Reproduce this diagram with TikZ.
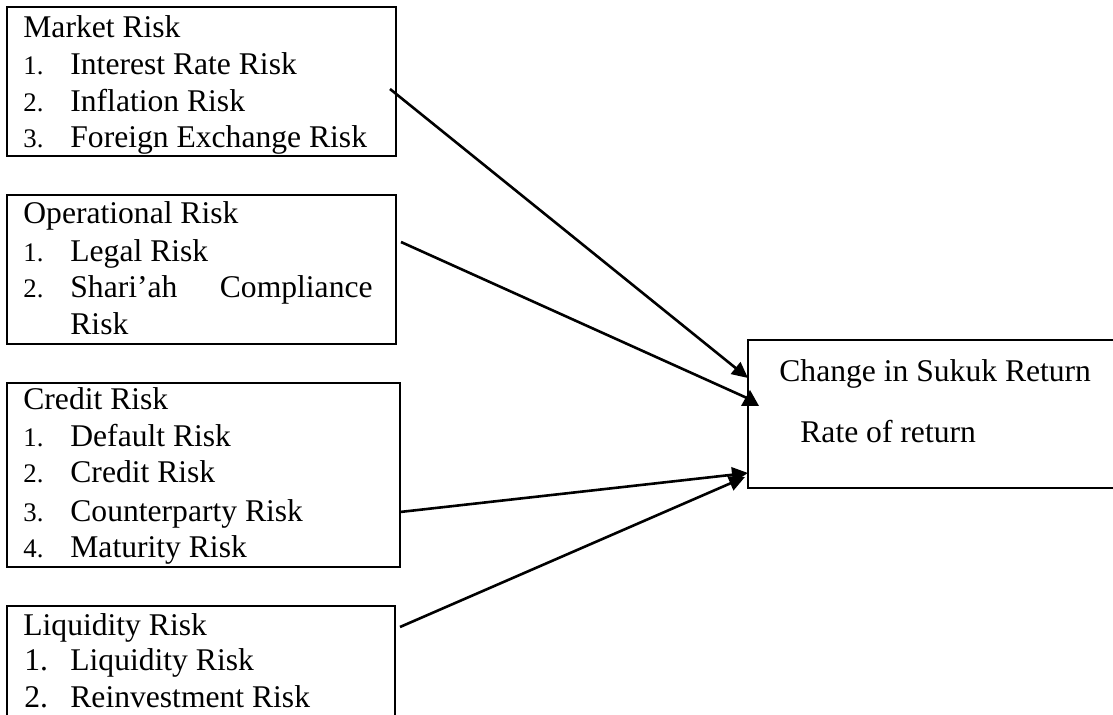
\documentclass[tikz,border=0pt]{standalone}
\usepackage{fontspec}
\setmainfont{Liberation Serif}
\usetikzlibrary{arrows.meta,fit}
\begin{document}
\begin{tikzpicture}[x=0.5pt,y=-0.5pt,
  box/.style={draw,line width=1.25pt,inner sep=0pt,rectangle},
  txt/.style={anchor=base west,inner sep=0pt,font=\fontsize{15.8}{18}\selectfont},
  num/.style={anchor=base west,inner sep=0pt,font=\fontsize{13.4}{15}\selectfont},
  arr/.style={line width=1.3pt,-{Triangle[length=8pt,width=7.5pt]}},
  plain/.style={line width=1.3pt}]
\useasboundingbox (0,0) rectangle (1113,715);
\clip (0,0) rectangle (1113,715);
% boxes
\node[box,fit={(7,7) (396,156)}] (market) {};
\node[box,fit={(7,195) (396,344)}] (oper) {};
\node[box,fit={(7,383) (400,567)}] (credit) {};
\node[box,fit={(7,606) (395,735)}] (liquid) {};
\node[box,fit={(748,340) (1130,488)}] (result) {};
% market
\node[txt] (mt) at (23,37.7) {Market Risk};
\node[num] (mn1) at (23,75) {1.};
\node[txt] (m1) at (70,75) {Interest Rate Risk};
\node[num] (mn2) at (23,112) {2.};
\node[txt] (m2) at (70,112) {Inflation Risk};
\node[num] (mn3) at (23,148) {3.};
\node[txt] (m3) at (70,148) {Foreign Exchange Risk};
% operational
\node[txt] (ot) at (23,224) {Operational Risk};
\node[num] (on1) at (23,262) {1.};
\node[txt] (o1) at (70,262) {Legal Risk};
\node[num] (on2) at (23,298) {2.};
\node[txt] (o2a) at (70,298) {Shari’ah};
\node[txt,anchor=base east] (o2b) at (373,298) {Compliance};
\node[txt] (o2c) at (70,335) {Risk};
% credit
\node[txt] (ct) at (23,410) {Credit Risk};
\node[num] (cn1) at (23,447) {1.};
\node[txt] (c1) at (70,447) {Default Risk};
\node[num] (cn2) at (23,483) {2.};
\node[txt] (c2) at (70,483) {Credit Risk};
\node[num] (cn3) at (23,522) {3.};
\node[txt] (c3) at (70,522) {Counterparty Risk};
\node[num] (cn4) at (23,558) {4.};
\node[txt] (c4) at (70,558) {Maturity Risk};
% liquidity
\node[txt] (lt) at (23,635) {Liquidity Risk};
\node[txt] (ln1) at (24,670) {1.};
\node[txt] (l1) at (70,670) {Liquidity Risk};
\node[txt] (ln2) at (24,707) {2.};
\node[txt] (l2) at (70,707) {Reinvestment Risk};
% result
\node[txt] (r1) at (779,382) {Change in Sukuk Return};
\node[txt] (r2) at (800,443) {Rate of return};
% connector endpoints
\coordinate (sm) at (390,89);
\coordinate (so) at (401,242);
\coordinate (sc) at (400,512);
\coordinate (sl) at (400,627);
\coordinate (em) at (748,378);
\coordinate (eo) at (747,398);
\coordinate (ec) at (748,473);
\coordinate (el) at (745,477);
\draw[arr] (sm) -- (em);
\draw[plain] (so) -- (eo);
\fill (750,390) -- (759,406) -- (741,406) -- cycle;
\draw[arr] (sc) -- (ec);
\draw[arr] (sl) -- (el);
\end{tikzpicture}
\end{document}
